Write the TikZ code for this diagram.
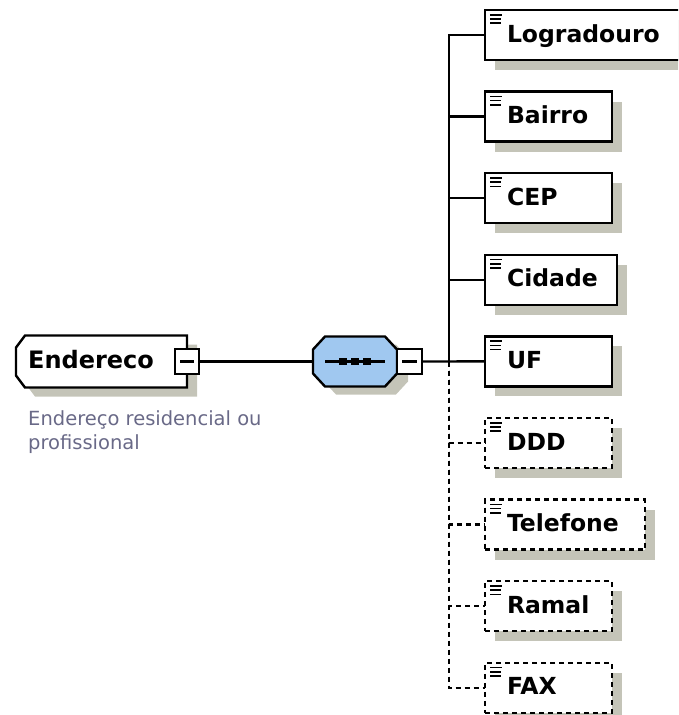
\documentclass[tikz,border=0pt]{standalone}
\usepackage{fontspec}
\setmainfont{DejaVu Sans}
\usetikzlibrary{shadows}

\definecolor{shadowgrey}{RGB}{196,196,184}
\definecolor{seqblue}{RGB}{160,200,240}
\definecolor{doctext}{RGB}{105,105,135}

\tikzset{
  edge/.style={line width=2.4pt},
  optedge/.style={edge, dash pattern=on 5pt off 4pt},
  elem/.style={draw, line width=2.4pt, fill=white, rectangle, inner sep=0pt, outer sep=0pt,
    minimum height=50pt, text height=17pt, text depth=3pt, align=left,
    font=\fontsize{23.5}{28}\selectfont\bfseries, anchor=north west,
    drop shadow={shadow xshift=10pt, shadow yshift=-10pt, fill=shadowgrey, opacity=1}},
  optelem/.style={elem, dash pattern=on 5pt off 4pt},
  minusbox/.style={draw, line width=2.4pt, fill=white, rectangle, inner sep=0pt, outer sep=0pt,
    minimum width=24pt, minimum height=25pt,
    path picture={\draw[line width=2.2pt]
      ([xshift=5pt]path picture bounding box.west) -- ([xshift=-5pt]path picture bounding box.east);}},
  frame/.style={rectangle, inner sep=0pt, outer sep=0pt},
  icon/.style={line width=1.5pt},
}

\begin{document}
\begin{tikzpicture}[x=1pt, y=-1pt]
\useasboundingbox (0,0) rectangle (678,715);
\clip (0,0) rectangle (678,715);

% ---- root element: Endereco ----
\node[frame, minimum width=171pt, minimum height=52pt] (end) at (101.5,361.5) {};
\fill[shadowgrey, transform canvas={shift={(10pt,-9pt)}}]
  ([xshift=9pt]end.north west) -- (end.north east) -- (end.south east)
  -- ([xshift=9pt]end.south west) -- ([yshift=12pt]end.south west)
  -- ([yshift=-12pt]end.north west) -- cycle;
\filldraw[fill=white, line width=2.4pt]
  ([xshift=9pt]end.north west) -- (end.north east) -- (end.south east)
  -- ([xshift=9pt]end.south west) -- ([yshift=12pt]end.south west)
  -- ([yshift=-12pt]end.north west) -- cycle;
\node[anchor=base west, inner sep=0pt, font=\fontsize{24}{28}\selectfont\bfseries]
  (endlbl) at ([xshift=12pt,yshift=-33pt]end.north west) {Endereco};
\node[minusbox] (endm) at (187,361.5) {};
\node[anchor=base west, inner sep=0pt, align=left, text=doctext,
  font=\fontsize{19.5}{24}\selectfont] (doc) at (28,449)
  {Endereço residencial ou\\profissional};

% ---- sequence compositor ----
\node[frame, minimum width=84pt, minimum height=50pt] (seq) at (355,361.5) {};
\fill[shadowgrey, transform canvas={shift={(11pt,-8pt)}}]
  ([xshift=12pt]seq.north west) -- ([xshift=-12pt]seq.north east)
  -- ([yshift=-13pt]seq.north east) -- ([yshift=13pt]seq.south east)
  -- ([xshift=-12pt]seq.south east) -- ([xshift=12pt]seq.south west)
  -- ([yshift=13pt]seq.south west) -- ([yshift=-13pt]seq.north west) -- cycle;
\filldraw[fill=seqblue, line width=2.4pt]
  ([xshift=12pt]seq.north west) -- ([xshift=-12pt]seq.north east)
  -- ([yshift=-13pt]seq.north east) -- ([yshift=13pt]seq.south east)
  -- ([xshift=-12pt]seq.south east) -- ([xshift=12pt]seq.south west)
  -- ([yshift=13pt]seq.south west) -- ([yshift=-13pt]seq.north west) -- cycle;
\draw[line width=2.2pt] ([xshift=12pt]seq.west) -- ([xshift=-12pt]seq.east);
\foreach \dx in {-12,0,12}
  \fill ([xshift=\dx pt]seq.center) +(-3.8pt,-3.8pt) rectangle +(3.8pt,3.8pt);
\node[minusbox, minimum width=25pt] (seqm) at (409.5,361.5) {};

% ---- child elements ----
\node[elem, text width=197pt] (e1) at (485,10)    {\hspace*{22pt}Logradouro};
\node[elem, text width=127pt] (e2) at (485,91.6)  {\hspace*{22pt}Bairro};
\node[elem, text width=127pt] (e3) at (485,173.2) {\hspace*{22pt}CEP};
\node[elem, text width=132pt] (e4) at (485,254.8) {\hspace*{22pt}Cidade};
\node[elem, text width=127pt] (e5) at (485,336.4) {\hspace*{22pt}UF};
\node[optelem, text width=127pt] (e6) at (485,418)   {\hspace*{22pt}DDD};
\node[optelem, text width=160pt] (e7) at (485,499.6) {\hspace*{22pt}Telefone};
\node[optelem, text width=127pt] (e8) at (485,581.2) {\hspace*{22pt}Ramal};
\node[optelem, text width=127pt] (e9) at (485,662.8) {\hspace*{22pt}FAX};

\foreach \n in {e1,e2,e3,e4,e5,e6,e7,e8,e9}{
  \draw[icon] ([xshift=5pt,yshift=-4.8pt]\n.north west) -- ++(12pt,0pt);
  \draw[icon] ([xshift=5pt,yshift=-9pt]\n.north west) -- ++(11pt,0pt);
  \draw[icon] ([xshift=5pt,yshift=-13.2pt]\n.north west) -- ++(11pt,0pt);
}

% ---- connectors ----
\draw[edge] (endm.east) -- (seq.west);
\coordinate (trunk) at (449,361.5);
\draw[edge] (seqm.east) -- (e5.west);
\foreach \n in {e1,e2,e3,e4}
  \draw[edge] (trunk) |- (\n.west);
\foreach \n in {e6,e7,e8,e9}
  \draw[optedge] (trunk) |- (\n.west);
\end{tikzpicture}
\end{document}
